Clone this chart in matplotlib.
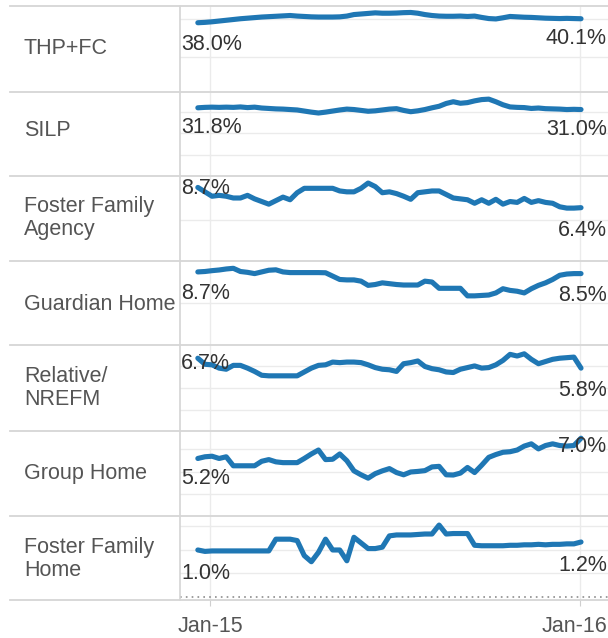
"""
small multiples: placement type share by week, Dec 2014 - Jan 2016
"""

import matplotlib.pyplot as plt
import matplotlib.transforms as mtransforms
import pandas as pd
from matplotlib.lines import Line2D

plt.rcParams['font.family'] = ['Liberation Sans', 'DejaVu Sans']

categories = ['THP+FC', 'SILP', 'Foster Family\nAgency', 'Guardian Home',
              'Relative/\nNREFM', 'Group Home', 'Foster Family\nHome']

# weekly share (%) per placement type
thp_fc = [38.0, 38.2, 38.5, 38.9, 39.3, 39.7, 40.1, 40.4, 40.7, 41.0, 41.2, 41.4, 41.6, 41.8,
          41.5, 41.3, 41.1, 41.0, 41.0, 41.0, 41.1, 41.5, 42.3, 42.6, 42.9, 43.2, 43.0, 43.0,
          43.1, 43.3, 43.4, 43.0, 42.3, 41.8, 41.5, 41.4, 41.4, 41.5, 41.3, 41.5, 40.8, 40.2,
          40.0, 40.6, 41.3, 41.1, 40.9, 40.8, 40.6, 40.4, 40.3, 40.2, 40.3, 40.2, 40.1]
silp = [31.8, 32.0, 32.1, 32.0, 32.1, 32.0, 32.2, 31.9, 32.1, 31.7, 31.5, 31.3, 31.2, 31.0,
        30.8, 30.3, 29.8, 29.4, 29.8, 30.3, 30.8, 31.2, 31.0, 30.6, 30.2, 30.4, 30.8, 31.2,
        31.4, 30.6, 30.0, 30.4, 31.0, 31.8, 32.5, 33.8, 34.6, 33.9, 34.2, 35.0, 35.6, 35.8,
        34.6, 33.2, 32.2, 32.0, 31.9, 31.5, 31.7, 31.4, 31.3, 31.2, 31.0, 31.1, 31.0]
ffa = [8.7, 8.2, 7.7, 7.8, 7.7, 7.5, 7.5, 7.8, 7.4, 7.1, 6.8, 7.2, 7.6, 7.3, 8.1, 8.6, 8.6,
       8.6, 8.6, 8.6, 8.3, 8.2, 8.2, 8.6, 9.2, 8.8, 8.1, 8.2, 8.0, 7.7, 7.35, 8.1, 8.2, 8.3,
       8.3, 7.9, 7.5, 7.4, 7.3, 6.9, 7.3, 6.9, 7.35, 6.8, 7.1, 7.0, 7.45, 7.0, 7.2, 7.0, 6.9,
       6.5, 6.35, 6.35, 6.4]
guardian = [8.7, 8.75, 8.85, 8.93, 9.05, 9.13, 8.75, 8.65, 8.5, 8.7, 8.9, 8.95, 8.7, 8.62,
            8.62, 8.62, 8.62, 8.62, 8.6, 8.2, 7.8, 7.75, 7.75, 7.6, 7.1, 7.2, 7.4, 7.3, 7.2,
            7.14, 7.14, 7.14, 7.6, 7.5, 6.75, 6.75, 6.75, 6.75, 5.85, 5.85, 5.9, 5.95, 6.2,
            6.7, 6.5, 6.4, 6.2, 6.7, 7.1, 7.4, 7.8, 8.3, 8.45, 8.5, 8.5]
relative = [6.7, 6.15, 6.1, 5.8, 5.7, 6.05, 6.05, 5.8, 5.5, 5.15, 5.1, 5.1, 5.1, 5.1, 5.1,
            5.45, 5.8, 6.05, 6.1, 6.35, 6.3, 6.35, 6.35, 6.3, 6.1, 5.85, 5.7, 5.65, 5.5, 6.2,
            6.3, 6.45, 5.95, 5.75, 5.65, 5.45, 5.4, 5.7, 5.85, 6.0, 5.8, 5.85, 6.1, 6.5, 7.05,
            6.9, 7.1, 6.6, 6.2, 6.4, 6.6, 6.7, 6.75, 6.8, 5.8]
group = [5.2, 5.35, 5.4, 5.2, 5.35, 4.55, 4.55, 4.55, 4.55, 4.95, 5.1, 4.9, 4.83, 4.83, 4.83,
         5.2, 5.6, 5.95, 5.1, 5.13, 5.6, 5.0, 4.1, 3.75, 3.45, 3.85, 4.1, 4.3, 3.95, 3.75,
         4.0, 4.05, 4.12, 4.45, 4.5, 3.75, 3.73, 3.9, 4.4, 3.95, 4.6, 5.3, 5.55, 5.75, 5.8,
         5.95, 6.3, 6.5, 6.05, 6.35, 6.5, 6.35, 6.3, 6.35, 7.0]
ffh = [1.0, 0.97, 0.98, 0.98, 0.98, 0.98, 0.98, 0.98, 0.98, 0.98, 0.98, 1.23, 1.23, 1.23,
       1.2, 0.88, 0.75, 0.95, 1.23, 1.0, 1.0, 0.77, 1.27, 1.15, 1.03, 1.03, 1.06, 1.3, 1.32,
       1.32, 1.32, 1.33, 1.34, 1.34, 1.53, 1.34, 1.35, 1.35, 1.35, 1.1, 1.09, 1.09, 1.09,
       1.09, 1.1, 1.1, 1.11, 1.11, 1.12, 1.11, 1.12, 1.12, 1.13, 1.13, 1.17]

series = [thp_fc, silp, ffa, guardian, relative, group, ffh]
dates = pd.date_range('2014-12-20', periods=len(thp_fc), freq='7D')
tick_dates = [pd.Timestamp('2015-01-01'), pd.Timestamp('2016-01-01')]
tick_labels = ['Jan-15', 'Jan-16']

# layout (pixels)
W, H = 608, 638
row_edges = [6, 92, 176, 261, 345, 431, 516, 600]
pane_left = 180
label_y = [49, 130, 218, 304, 388, 474, 559]
ylims = [(1.6, 46.8), (0.3, 39.1), (0.34, 10.0), (0, 10), (0.09, 7.9), (0.09, 7.64),
         (-0.064, 1.723)]
grids = [[20, 40], [10, 20, 30], [5], [5], [2, 4, 6], [2, 4, 6], [0.5, 1.0, 1.5]]
start_off = [11, 9, -9, 11, -5, 10, 13]
end_off = [9, 9, 12, 11, 12, -2, 13]

fig = plt.figure(figsize=(W / 100, H / 100), dpi=100)


def fy(y):
    return 1 - y / H


px_per_day = (580 - 210) / 365.0
xmin = tick_dates[0] - pd.Timedelta(days=(210 - pane_left) / px_per_day)
xmax = tick_dates[0] + pd.Timedelta(days=(W - 210) / px_per_day)
line_color = '#1f77b4'

for r, vals in enumerate(series):
    top, bot = row_edges[r], row_edges[r + 1]
    ax = fig.add_axes([pane_left / W, fy(bot), (W - pane_left) / W, (bot - top) / H])
    ax.plot(dates, vals, color=line_color, lw=3.7, solid_capstyle='round',
            solid_joinstyle='round', zorder=3)
    ax.set_xlim(xmin, xmax)
    ax.set_ylim(*ylims[r])
    ax.set_yticks(grids[r])
    ax.set_xticks(tick_dates)
    ax.grid(True, color='#ebebeb', lw=1)
    ax.set_axisbelow(True)
    for s in ['top', 'right', 'bottom']:
        ax.spines[s].set_visible(False)
    ax.spines['left'].set_color('#d4d4d4')
    ax.spines['left'].set_linewidth(1.2)
    ax.tick_params(left=False, labelleft=False, bottom=False, labelbottom=False)

    # first / last value labels
    ax.annotate('{:.1f}%'.format(vals[0]), xy=(0, vals[0]),
                xycoords=('axes fraction', 'data'), xytext=(1, -start_off[r]),
                textcoords='offset pixels', ha='left', va='top', fontsize=15.5,
                color='#333333', zorder=4, annotation_clip=False)
    ax.annotate('{:.1f}%'.format(vals[-1]), xy=(1.0, vals[-1]),
                xycoords=('axes fraction', 'data'), xytext=(-1, -end_off[r]),
                textcoords='offset pixels', ha='right', va='top', fontsize=15.5,
                color='#333333', zorder=4, annotation_clip=False)

    fig.text(24 / W, fy(label_y[r]), categories[r], ha='left', va='center',
             fontsize=15.5, color='#555555', linespacing=1.1)

    if r == len(series) - 1:
        ax.axhline(0, color='#8c8c8c', lw=1.2, ls=(0, (1, 2.5)), zorder=2)
        ax.set_xticklabels(tick_labels)
        ax.tick_params(bottom=True, labelbottom=True, length=4.3, color='#cfcfcf',
                       pad=7.5, labelsize=15.5, labelcolor='#555555')
        # nudge the right-hand date label so it stays inside the canvas
        last = ax.get_xticklabels()[-1]
        last.set_transform(last.get_transform() +
                           mtransforms.ScaledTranslation(-6 / 100, 0, fig.dpi_scale_trans))

for y in row_edges:
    fig.add_artist(Line2D([10 / W, 1], [fy(y), fy(y)], color='#d6d6d6', lw=1.3))

plt.savefig('out.png', dpi=100, facecolor='white')
